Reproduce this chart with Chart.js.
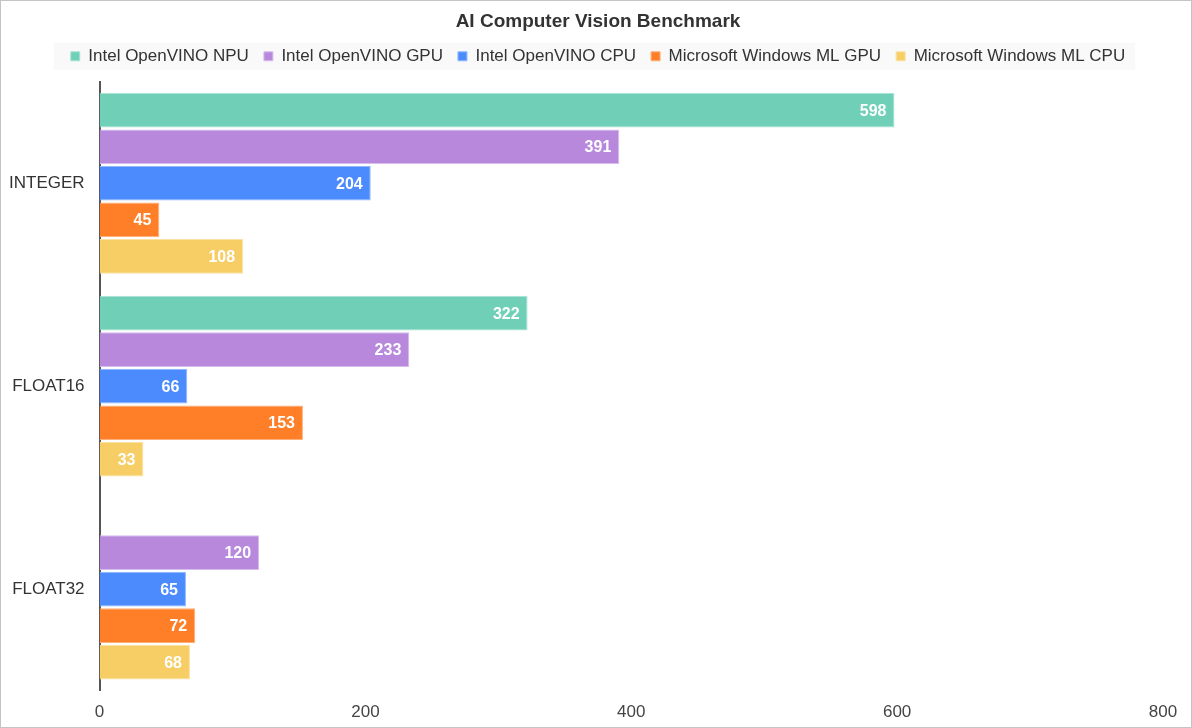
<!DOCTYPE html>
<html>
<head>
<meta charset="utf-8">
<title>AI Computer Vision Benchmark</title>
<script src="https://cdn.jsdelivr.net/npm/chart.js@4"></script>
<style>
    html, body { margin: 0; padding: 0; background: #fff; }
    #wrap {
        width: 1190px;
        height: 726px;
        border: 1px solid #c4c4c4;
        position: relative;
    }
</style>
</head>
<body>
<div id="wrap"><canvas id="benchChart"></canvas></div>
<script>
const categories = ['INTEGER', 'FLOAT16', 'FLOAT32'];
const seriesNames = ['Intel OpenVINO NPU', 'Intel OpenVINO GPU', 'Intel OpenVINO CPU', 'Microsoft Windows ML GPU', 'Microsoft Windows ML CPU'];
const npuScores = [598, 322, null];
const gpuScores = [391, 233, 120];
const cpuScores = [204, 66, 65];
const winGpuScores = [45, 153, 72];
const winCpuScores = [108, 33, 68];
const xTicks = [0, 200, 400, 600, 800];

const fills = ['#6fcfb7', '#b788dc', '#4b8bfe', '#fe7f27', '#f7cd65'];
const edges = ['#a9e4d5', '#d6bdee', '#8fb8ff', '#ffb07a', '#fbe2a2'];
const FONT = '"Liberation Sans", Arial, sans-serif';
const HEADER_CENTER = 597;

// white value labels at the end of each bar
const barValues = {
    id: 'barValues',
    afterDatasetsDraw(chart) {
        const ctx = chart.ctx;
        ctx.save();
        ctx.font = 'bold 16px ' + FONT;
        ctx.fillStyle = '#fff';
        ctx.textAlign = 'right';
        ctx.textBaseline = 'middle';
        chart.data.datasets.forEach((ds, i) => {
            chart.getDatasetMeta(i).data.forEach((bar, j) => {
                if (ds.data[j] == null) return;
                ctx.fillText(ds.data[j], bar.x - 8, bar.y + 1);
            });
        });
        ctx.restore();
    }
};

// centre title + legend on the page, then paint the legend's grey strip
const headerFix = {
    id: 'headerFix',
    afterLayout(chart) {
        [chart.titleBlock, chart.legend].forEach(box => {
            if (!box) return;
            const dx = HEADER_CENTER - (box.left + box.right) / 2;
            box.left += dx;
            box.right += dx;
            if (box.legendHitBoxes) box.legendHitBoxes.forEach(h => { h.left += dx; });
        });
    },
    beforeDraw(chart) {
        const lg = chart.legend;
        if (!lg || !lg.legendItems.length) return;
        const hit = lg.legendHitBoxes;
        const first = hit[0], last = hit[hit.length - 1];
        const cy = first.top + first.height / 2;
        const ctx = chart.ctx;
        ctx.save();
        ctx.fillStyle = '#f9f9f9';
        ctx.fillRect(first.left - 17, cy - 13.5, last.left + last.width - first.left + 27, 27);
        ctx.restore();
    }
};

const datasets = [npuScores, gpuScores, cpuScores, winGpuScores, winCpuScores].map((d, i) => ({
    label: seriesNames[i],
    data: d,
    backgroundColor: fills[i],
    borderColor: edges[i],
    borderWidth: 1,
    borderSkipped: 'left',
    categoryPercentage: 0.9,
    barPercentage: 0.95
}));

const ctx = document.getElementById('benchChart').getContext('2d');
new Chart(ctx, {
    type: 'bar',
    data: { labels: categories, datasets: datasets },
    plugins: [headerFix, barValues],
    options: {
        indexAxis: 'y',
        responsive: true,
        maintainAspectRatio: false,
        animation: false,
        layout: { padding: { left: -7, right: 28, top: 6, bottom: -8 } },
        plugins: {
            title: {
                display: true,
                text: 'AI Computer Vision Benchmark',
                color: '#333',
                font: { family: FONT, size: 19, weight: 'bold' },
                padding: { top: 3, bottom: 0 }
            },
            legend: {
                position: 'top',
                labels: {
                    color: '#333',
                    font: { family: FONT, size: 17 },
                    usePointStyle: true,
                    pointStyle: 'rect',
                    boxWidth: 9,
                    boxHeight: 9,
                    padding: 15
                }
            },
            tooltip: { enabled: false }
        },
        scales: {
            x: {
                min: 0,
                max: 800,
                afterBuildTicks(axis) {
                    axis.ticks = xTicks.map(v => ({ value: v }));
                },
                grid: { display: false, drawTicks: false },
                border: { display: false },
                ticks: {
                    color: '#444',
                    padding: 12,
                    font: { family: FONT, size: 17 }
                }
            },
            // empty spacer above the plot
            gap: {
                type: 'linear',
                position: 'top',
                axis: 'x',
                grid: { display: false, drawTicks: false },
                border: { display: false },
                ticks: { display: false },
                afterFit(axis) { axis.height = 7; }
            },
            y: {
                grid: { display: false, drawTicks: false },
                border: { display: true, color: '#555', width: 2 },
                ticks: {
                    color: '#333',
                    padding: 15,
                    font: { family: FONT, size: 17 }
                }
            }
        }
    }
});
</script>
</body>
</html>
